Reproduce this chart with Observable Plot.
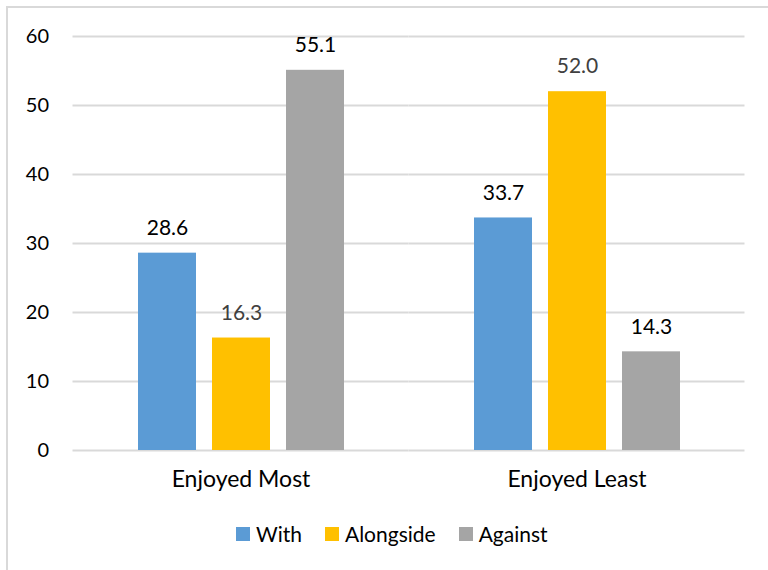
<!DOCTYPE html>
<html>
<head>
<meta charset="utf-8">
<script src="https://cdn.jsdelivr.net/npm/d3@7"></script>
<script src="https://cdn.jsdelivr.net/npm/@observablehq/plot@0.6"></script>
<style>
  html, body { margin: 0; padding: 0; background: #fff; }
  #wrap { position: relative; width: 768px; height: 570px; overflow: hidden; font-family: Lato, "Open Sans", sans-serif; }
  #border { position: absolute; left: 6px; top: 6px; width: 900px; height: 700px; border-top: 2px solid #d9d9d9; border-left: 2px solid #d9d9d9; }
  #chart { position: absolute; left: 0; top: 0; }
  #legend { position: absolute; left: 236px; top: 521px; display: flex; align-items: center; font-size: 21px; color: #000; }
  #legend .item { display: flex; align-items: center; margin-right: 23px; }
  #legend .sw { width: 14px; height: 14px; margin-right: 6px; }
</style>
</head>
<body>
<div id="wrap">
  <div id="border"></div>
  <div id="chart"></div>
  <div id="legend"></div>
</div>
<script>
const categories = ["Enjoyed Most", "Enjoyed Least"];
const series = ["With", "Alongside", "Against"];
const withValues = [28.6, 33.7];
const alongsideValues = [16.3, 52.0];
const againstValues = [55.1, 14.3];
const yTicks = [0, 10, 20, 30, 40, 50, 60];
const colors = ["#5b9bd5", "#ffc000", "#a5a5a5"];

const valuesBySeries = [withValues, alongsideValues, againstValues];
const data = [];
categories.forEach((c, i) => {
  series.forEach((s, j) => {
    data.push({category: c, series: s, value: valuesBySeries[j][i]});
  });
});

const width = 768, height = 510;
const marginLeft = 72, marginRight = 24;
const innerWidth = width - marginLeft - marginRight;
const step = innerWidth / categories.length;
const facetWidth = 207;
const fxPadInner = (step - facetWidth) / step;
const gridExtend = (step - facetWidth) / 2;

const chart = Plot.plot({
  width, height,
  marginLeft, marginRight,
  marginTop: 36, marginBottom: 60,
  style: {fontFamily: "Lato, 'Open Sans', sans-serif", background: "transparent"},
  fx: {domain: categories, paddingInner: fxPadInner, paddingOuter: fxPadInner / 2, label: null},
  x: {domain: series, paddingInner: 0.2215, paddingOuter: 0, axis: null},
  y: {domain: [0, 60], label: null},
  color: {domain: series, range: colors},
  marks: [
    Plot.ruleY(yTicks, {stroke: "#d9d9d9", strokeWidth: 2, insetLeft: -gridExtend, insetRight: -gridExtend}),
    Plot.barY(data, {fx: "category", x: "series", y: "value", fill: "series"}),
    Plot.text(data, {
      fx: "category", x: "series", y: "value",
      text: d => d3.format(".1f")(d.value),
      dy: -25, lineAnchor: "middle", fontSize: 21,
      fill: d => d.series === "Alongside" ? "#404040" : "#000"
    }),
    Plot.axisY({ticks: yTicks, tickSize: 0, tickPadding: gridExtend + 24, fontSize: 20, fill: "#000", label: null, anchor: "left"}),
    Plot.axisFx({anchor: "bottom", tickSize: 0, tickPadding: 20, fontSize: 23, fill: "#000", label: null})
  ]
});
document.getElementById("chart").appendChild(chart);

const legend = document.getElementById("legend");
series.forEach((s, i) => {
  const item = document.createElement("div");
  item.className = "item";
  const sw = document.createElement("div");
  sw.className = "sw";
  sw.style.background = colors[i];
  const label = document.createElement("span");
  label.textContent = s;
  item.appendChild(sw);
  item.appendChild(label);
  legend.appendChild(item);
});
</script>
</body>
</html>
